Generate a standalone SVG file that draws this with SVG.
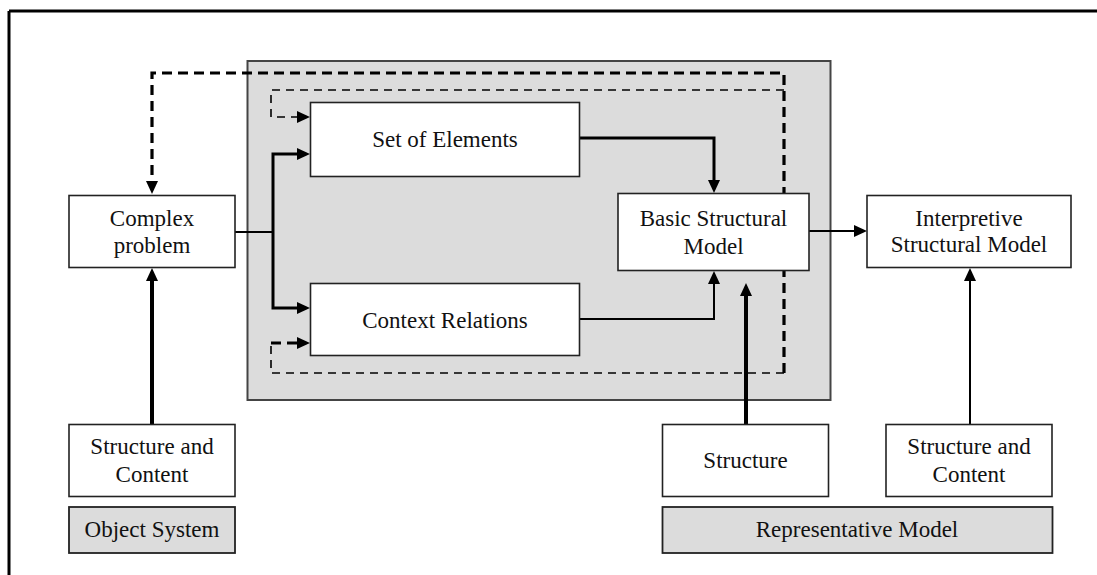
<svg xmlns="http://www.w3.org/2000/svg" width="1097" height="575" viewBox="0 0 1097 575">
  <style>
    .box { fill: #ffffff; stroke: #222222; stroke-width: 1.6; }
    .tag { fill: #dcdcdc; stroke: #222222; stroke-width: 1.8; }
    .panel { fill: #dcdcdc; stroke: #444444; stroke-width: 2; }
    .lbl { font-family: "Liberation Serif", "Times New Roman", serif; font-size: 23px; fill: #111111; text-anchor: middle; }
    .ln { fill: none; stroke: #000000; stroke-linejoin: miter; }
    .w2 { stroke-width: 2; }
    .w3 { stroke-width: 3; }
    .w4 { stroke-width: 4; }
    .dash-heavy { stroke-width: 3.2; stroke-dasharray: 10 6; }
    .dash-light { stroke-width: 1.6; stroke-dasharray: 8 6; }
  </style>
  <defs>
    <marker id="ah" markerUnits="userSpaceOnUse" viewBox="0 0 13 12" markerWidth="13" markerHeight="12" refX="3" refY="6" orient="auto-start-reverse">
      <path d="M0,0 L13,6 L0,12 z" fill="#000000"/>
    </marker>
  </defs>

  <!-- page frame (top and left rule) -->
  <path d="M9,11 H1097 M9,11 V575" fill="none" stroke="#000000" stroke-width="3"/>

  <!-- shaded modelling area -->
  <rect id="modelling-area" class="panel" x="247.5" y="61" width="583" height="339"/>

  <!-- connectors -->
  <g id="connectors">
    <!-- complex problem feeds both element set and relations -->
    <path class="ln w2" d="M235,232 H273"/>
    <path class="ln w3" d="M300,154 H273 V308 H300" marker-start="url(#ah)" marker-end="url(#ah)"/>
    <!-- element set to basic structural model -->
    <path class="ln w3" d="M580,138 H714 V183" marker-end="url(#ah)"/>
    <!-- context relations to basic structural model -->
    <path class="ln w2" d="M580,319 H714 V281" marker-end="url(#ah)"/>
    <!-- basic to interpretive structural model -->
    <path class="ln w2" d="M809,231 H857" marker-end="url(#ah)"/>
    <!-- structure input -->
    <path class="ln w4" d="M746,424 V293" marker-end="url(#ah)"/>
    <!-- structure and content into interpretive model -->
    <path class="ln w2" d="M970,424 V278" marker-end="url(#ah)"/>
    <!-- structure and content into complex problem -->
    <path class="ln w4" d="M152,424 V278" marker-end="url(#ah)"/>
    <!-- outer feedback loop -->
    <path class="ln dash-heavy" d="M784,373 V73 H152 V184" marker-end="url(#ah)"/>
    <!-- inner feedback loops -->
    <path class="ln dash-light" d="M784,90 H271 V117 H300" marker-end="url(#ah)"/>
    <path class="ln dash-light" d="M784,373 H271 V343"/>
    <path class="ln dash-heavy" d="M271,343 H300" marker-end="url(#ah)"/>
  </g>

  <g id="complex-problem">
    <rect class="box" x="69" y="195.5" width="166" height="72"/>
    <text class="lbl" x="152" y="226">Complex</text>
    <text class="lbl" x="152" y="253">problem</text>
  </g>

  <g id="set-of-elements">
    <rect class="box" x="310.5" y="102.5" width="269" height="74"/>
    <text class="lbl" x="445" y="147">Set of Elements</text>
  </g>

  <g id="context-relations">
    <rect class="box" x="310.5" y="283.5" width="269" height="72"/>
    <text class="lbl" x="445" y="328">Context Relations</text>
  </g>

  <g id="basic-structural-model">
    <rect class="box" x="618" y="193.5" width="191" height="77"/>
    <text class="lbl" x="713.5" y="226">Basic Structural</text>
    <text class="lbl" x="713.5" y="254">Model</text>
  </g>

  <g id="interpretive-structural-model">
    <rect class="box" x="867" y="195.5" width="204" height="72"/>
    <text class="lbl" x="969" y="226">Interpretive</text>
    <text class="lbl" x="969" y="252">Structural Model</text>
  </g>

  <g id="structure-content-left">
    <rect class="box" x="69" y="424.5" width="166" height="72"/>
    <text class="lbl" x="152" y="454">Structure and</text>
    <text class="lbl" x="152" y="482">Content</text>
  </g>

  <g id="structure">
    <rect class="box" x="662.5" y="424.5" width="166" height="72"/>
    <text class="lbl" x="745.5" y="468">Structure</text>
  </g>

  <g id="structure-content-right">
    <rect class="box" x="886" y="424.5" width="166" height="72"/>
    <text class="lbl" x="969" y="454">Structure and</text>
    <text class="lbl" x="969" y="482">Content</text>
  </g>

  <g id="object-system">
    <rect class="tag" x="69" y="507" width="166" height="46"/>
    <text class="lbl" x="152" y="537">Object System</text>
  </g>

  <g id="representative-model">
    <rect class="tag" x="662.5" y="507" width="390" height="46"/>
    <text class="lbl" x="857" y="537">Representative Model</text>
  </g>
</svg>
